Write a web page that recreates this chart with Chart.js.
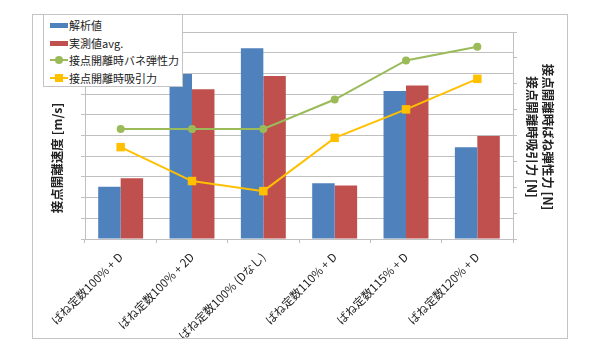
<!DOCTYPE html>
<html lang="ja">
<head>
<meta charset="utf-8">
<script src="https://cdn.jsdelivr.net/npm/chart.js@4.4.1/dist/chart.umd.min.js"></script>
<style>
    body {
        margin: 0;
        width: 600px;
        height: 360px;
        background: #fff;
        font-family: "Noto Sans CJK JP", sans-serif;
        overflow: hidden;
    }
    #frame {
        position: absolute;
        left: 32px;
        top: 14px;
        width: 536px;
        height: 325px;
        border: 1px solid #c4c4c4;
        box-sizing: border-box;
    }
    #legend {
        position: absolute;
        left: 43px;
        top: 14px;
        width: 140px;
        height: 73px;
        border: 1px solid #c4c4c4;
        background: #fff;
        box-sizing: border-box;
        font-size: 11px;
        color: #222;
    }
    .row {
        position: absolute;
        left: 6px;
        height: 18px;
        display: flex;
        align-items: center;
        white-space: nowrap;
    }
    .sym {
        position: relative;
        width: 18px;
        height: 18px;
        margin-right: 1px;
    }
</style>
</head>
<body>
<div id="frame"><canvas id="chart"></canvas></div>
<div id="legend"></div>

<script>
const categories = [
    "ばね定数100% + D",
    "ばね定数100% + 2D",
    "ばね定数100% (Dなし)",
    "ばね定数110% + D",
    "ばね定数115% + D",
    "ばね定数120% + D"
];
const seriesNames = ["解析値", "実測値avg.", "接点開離時バネ弾性力", "接点開離時吸引力"];
const analysisValues = [2.53, 7.97, 9.21, 2.69, 7.15, 4.43];
const measuredAvg = [2.93, 7.23, 7.87, 2.58, 7.42, 4.98];
const springForce = [4.25, 4.25, 4.25, 5.39, 6.90, 7.43];
const suctionForce = [3.55, 2.24, 1.85, 3.91, 5.01, 6.19];
const leftTitle = "接点開離速度 [m/s]";
const rightTitles = ["接点開離時ばね弾性力 [N]", "接点開離時吸引力 [N]"];

const colors = ["#4f81bd", "#c0504d", "#9bbb59", "#ffc000"];
const gridColor = "#c0c0c0";

// axis titles drawn by hand so they sit where the original has them
const axisTitles = {
    id: "axisTitles",
    afterDraw(chart) {
        const ctx = chart.ctx;
        ctx.save();
        ctx.fillStyle = "#222";
        ctx.font = "bold 12.5px 'Noto Sans CJK JP'";
        ctx.textAlign = "center";
        ctx.textBaseline = "middle";

        ctx.save();
        ctx.translate(24, 143);
        ctx.rotate(-Math.PI / 2);
        ctx.fillText(leftTitle, 0, 0);
        ctx.restore();

        ctx.save();
        ctx.translate(515, 122);
        ctx.rotate(Math.PI / 2);
        ctx.fillText(rightTitles[0], 0, 0);
        ctx.restore();

        ctx.save();
        ctx.translate(499, 122);
        ctx.rotate(Math.PI / 2);
        ctx.fillText(rightTitles[1], 0, 0);
        ctx.restore();

        ctx.restore();
    }
};

const ctx = document.getElementById("chart").getContext("2d");

new Chart(ctx, {
    type: "bar",
    data: {
        labels: categories,
        datasets: [
            {
                label: seriesNames[0],
                data: analysisValues,
                backgroundColor: colors[0],
                borderWidth: 0,
                yAxisID: "y",
                order: 2
            },
            {
                label: seriesNames[1],
                data: measuredAvg,
                backgroundColor: colors[1],
                borderWidth: 0,
                yAxisID: "y",
                order: 2
            },
            {
                type: "line",
                label: seriesNames[2],
                data: springForce,
                borderColor: colors[2],
                backgroundColor: colors[2],
                borderWidth: 2,
                pointStyle: "circle",
                pointRadius: 4,
                pointBorderWidth: 0,
                tension: 0,
                yAxisID: "y1",
                order: 1
            },
            {
                type: "line",
                label: seriesNames[3],
                data: suctionForce,
                borderColor: colors[3],
                backgroundColor: colors[3],
                borderWidth: 2,
                pointStyle: "rect",
                pointRadius: 6,
                pointBorderWidth: 0,
                tension: 0,
                yAxisID: "y1",
                order: 0
            }
        ]
    },
    options: {
        responsive: true,
        maintainAspectRatio: false,
        animation: false,
        layout: {
            padding: { left: 48, right: 50, top: 17, bottom: 0 }
        },
        plugins: {
            legend: { display: false },
            tooltip: { enabled: false }
        },
        datasets: {
            bar: {
                categoryPercentage: 0.63,
                barPercentage: 1
            }
        },
        scales: {
            x: {
                offset: true,
                grid: {
                    offset: true,
                    drawOnChartArea: false,
                    drawTicks: true,
                    tickLength: 4,
                    color: gridColor
                },
                border: { color: gridColor },
                ticks: {
                    autoSkip: false,
                    minRotation: 45,
                    maxRotation: 45,
                    padding: 7,
                    color: "#222",
                    font: { family: "'Noto Sans CJK JP'", size: 11.5 }
                },
                afterFit: (scale) => { scale.height = 99; }
            },
            y: {
                position: "left",
                min: 0,
                max: 10,
                ticks: { stepSize: 1, display: false },
                grid: {
                    color: gridColor,
                    tickLength: 4
                },
                border: { color: gridColor },
                afterFit: (scale) => { scale.width = 4; }
            },
            y1: {
                position: "right",
                min: 0,
                max: 8,
                ticks: { stepSize: 1, display: false },
                grid: {
                    drawOnChartArea: false,
                    color: gridColor,
                    tickLength: 4
                },
                border: { color: gridColor },
                afterFit: (scale) => { scale.width = 4; }
            }
        }
    },
    plugins: [axisTitles]
});

// legend box laid over the plot, top left
function buildLegend() {
    const legend = document.getElementById("legend");
    const rowsTop = [1, 18.5, 36, 53.5];
    seriesNames.forEach((name, i) => {
        const row = document.createElement("div");
        row.className = "row";
        row.style.top = rowsTop[i] + "px";

        const sym = document.createElement("span");
        sym.className = "sym";
        if (i < 2) {
            sym.innerHTML = '<span style="position:absolute;left:0;top:7px;width:18px;height:5px;background:' + colors[i] + '"></span>';
        } else {
            const marker = i === 2
                ? '<span style="position:absolute;left:5px;top:5px;width:8px;height:8px;border-radius:50%;background:' + colors[i] + '"></span>'
                : '<span style="position:absolute;left:5px;top:5px;width:8px;height:8px;background:' + colors[i] + '"></span>';
            sym.innerHTML = '<span style="position:absolute;left:0;top:8px;width:18px;height:2px;background:' + colors[i] + '"></span>' + marker;
        }

        const text = document.createElement("span");
        text.textContent = name;

        row.appendChild(sym);
        row.appendChild(text);
        legend.appendChild(row);
    });
}

buildLegend();
</script>
</body>
</html>
